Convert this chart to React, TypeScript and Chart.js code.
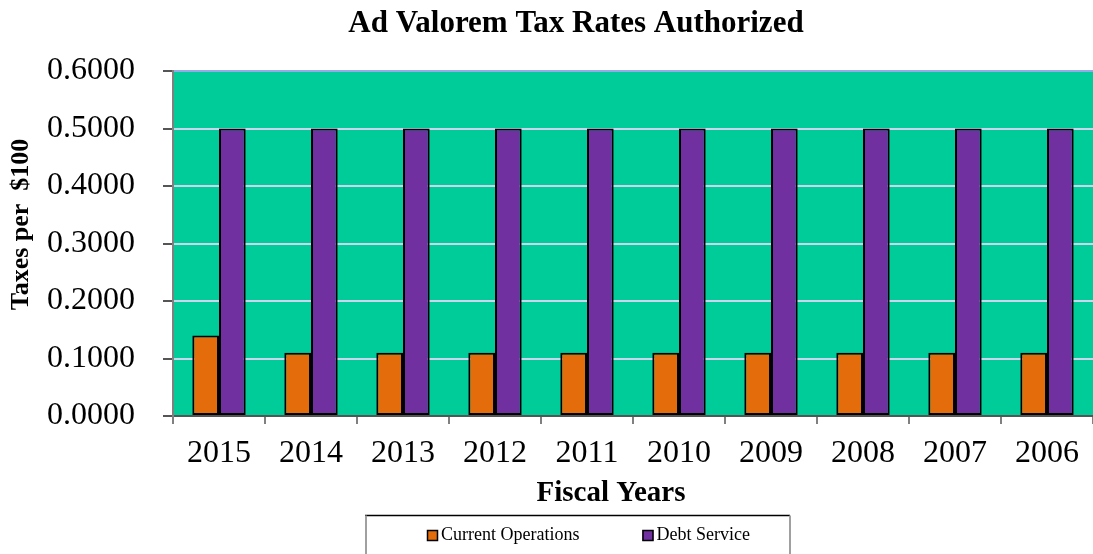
import React, { useEffect, useRef } from "react";
import { Chart, registerables } from "chart.js";

Chart.register(...registerables);

const categories = ["2015", "2014", "2013", "2012", "2011", "2010", "2009", "2008", "2007", "2006"];
const currentOperations = [0.14, 0.11, 0.11, 0.11, 0.11, 0.11, 0.11, 0.11, 0.11, 0.11];
const debtService = [0.5, 0.5, 0.5, 0.5, 0.5, 0.5, 0.5, 0.5, 0.5, 0.5];
const seriesLabels = ["Current Operations", "Debt Service"];
const chartTitle = "Ad Valorem Tax Rates Authorized";
const xTitle = "Fiscal Years";
const yTitle = "Taxes per  $100";

const FONT = "'Liberation Serif', 'Times New Roman', serif";
const PLOT_BG = "#00CC99";
const ORANGE = "#E46C0A";
const PURPLE = "#7030A0";

const decorPlugin = {
  id: "excelDecor",
  afterLayout(chart: any) {
    if (chart.titleBlock) {
      chart.titleBlock.left = 59;
    }
  },
  beforeDraw(chart: any) {
    const { ctx, chartArea } = chart;
    ctx.save();
    ctx.fillStyle = PLOT_BG;
    ctx.fillRect(chartArea.left, chartArea.top, chartArea.right - chartArea.left, chartArea.bottom - chartArea.top);
    ctx.restore();
  },
  afterDraw(chart: any) {
    const { ctx, chartArea } = chart;
    ctx.save();
    // y axis title
    ctx.fillStyle = "#000";
    ctx.font = `bold 26px ${FONT}`;
    ctx.textAlign = "center";
    ctx.textBaseline = "middle";
    ctx.translate(21.5, (chartArea.top + chartArea.bottom) / 2 - 19);
    ctx.rotate(-Math.PI / 2);
    ctx.fillText(yTitle, 0, 0);
    ctx.restore();

    // x axis title
    ctx.save();
    ctx.fillStyle = "#000";
    ctx.font = `bold 29px ${FONT}`;
    ctx.textAlign = "center";
    ctx.textBaseline = "middle";
    ctx.fillText(xTitle, 611, chartArea.bottom + 78);
    ctx.restore();

    // legend frame
    ctx.save();
    const boxTop = chartArea.bottom + 99.5;
    ctx.lineWidth = 1.5;
    ctx.strokeStyle = "#000";
    ctx.beginPath();
    ctx.moveTo(365, boxTop);
    ctx.lineTo(790, boxTop);
    ctx.stroke();
    ctx.strokeStyle = "#a0a0a0";
    ctx.lineWidth = 2;
    ctx.beginPath();
    ctx.moveTo(366, boxTop);
    ctx.lineTo(366, chart.height);
    ctx.moveTo(790, boxTop);
    ctx.lineTo(790, chart.height);
    ctx.stroke();

    // legend items
    ctx.font = `18px ${FONT}`;
    ctx.textAlign = "left";
    ctx.textBaseline = "middle";
    const cy = boxTop + 20;
    let x = 427;
    chart.data.datasets.forEach((ds: any) => {
      ctx.fillStyle = ds.backgroundColor;
      ctx.fillRect(x, cy - 5.5, 11, 11);
      ctx.strokeStyle = "#000";
      ctx.lineWidth = 1.5;
      ctx.strokeRect(x + 0.5, cy - 5, 10, 10);
      ctx.fillStyle = "#000";
      ctx.fillText(ds.label, x + 14, cy);
      x = x + 14 + ctx.measureText(ds.label).width + 63;
    });
    ctx.restore();
  },
};

export default function App() {
  const canvasRef = useRef<HTMLCanvasElement | null>(null);

  useEffect(() => {
    document.body.style.margin = "0";
    const canvas = canvasRef.current;
    if (!canvas) return;
    const chart = new Chart(canvas, {
      type: "bar",
      data: {
        labels: categories,
        datasets: [
          {
            label: seriesLabels[0],
            data: currentOperations,
            backgroundColor: ORANGE,
            borderColor: "#000",
            borderWidth: 2,
            borderSkipped: false,
          },
          {
            label: seriesLabels[1],
            data: debtService,
            backgroundColor: PURPLE,
            borderColor: "#000",
            borderWidth: 2,
            borderSkipped: false,
          },
        ],
      },
      options: {
        responsive: false,
        animation: false,
        layout: { padding: 0 },
        datasets: {
          bar: { categoryPercentage: 0.58, barPercentage: 1 },
        },
        plugins: {
          legend: { display: false },
          tooltip: { enabled: false },
          title: {
            display: true,
            text: chartTitle,
            color: "#000",
            font: { family: FONT, size: 31, weight: "bold", lineHeight: 1.2 },
            padding: { top: 5, bottom: 28.8 },
          },
        },
        scales: {
          x: {
            afterFit: (scale: any) => {
              scale.height = 138;
            },
            grid: {
              display: true,
              drawOnChartArea: false,
              drawTicks: true,
              tickLength: 8,
              color: "#808080",
              lineWidth: 2,
              offset: true,
            },
            border: { display: true, color: "#555555", width: 2 },
            ticks: {
              color: "#000",
              padding: 10,
              font: { family: FONT, size: 32 },
              maxRotation: 0,
              autoSkip: false,
            },
          },
          y: {
            min: 0,
            max: 0.6,
            afterFit: (scale: any) => {
              scale.width = 173;
            },
            grid: {
              drawTicks: true,
              tickLength: 10,
              tickColor: "#555555",
              lineWidth: 2,
              color: (c: any) => (c.tick && Math.abs(c.tick.value - 0.6) < 1e-9 ? "#94aae8" : "#cdd4ee"),
            },
            border: { display: true, color: "#808080", width: 2 },
            ticks: {
              stepSize: 0.1,
              color: "#000",
              padding: 28,
              font: { family: FONT, size: 32 },
              callback: (v: any) => Number(v).toFixed(4),
            },
          },
        },
      },
      plugins: [decorPlugin],
    } as any);
    return () => chart.destroy();
  }, []);

  return (
    <div style={{ width: 1093, height: 554 }}>
      <canvas ref={canvasRef} width={1093} height={554} />
    </div>
  );
}
